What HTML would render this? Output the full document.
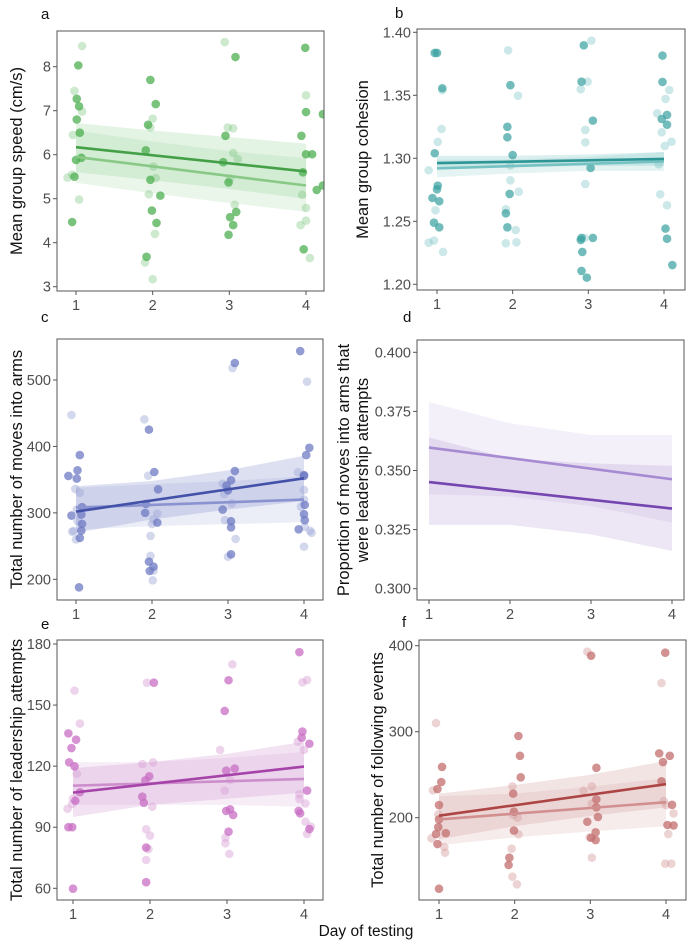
<!DOCTYPE html>
<html><head><meta charset="utf-8">
<style>
html,body{margin:0;padding:0;background:#fff;}
svg{display:block;font-family:"Liberation Sans",sans-serif;}
</style></head>
<body>
<svg id="fig" width="691" height="945" viewBox="0 0 691 945"></svg>
<script>
// ---------- DATA ----------
const days=[1,2,3,4];
// panel a: mean group speed
const aDark=[[1.03,8.03],[1.01,7.27],[1.04,7.1],[1.01,6.8],[1.05,6.5],[1.0,5.88],[1.07,5.93],[0.98,5.5],[0.95,4.47],
 [1.97,7.7],[2.04,7.15],[1.94,6.68],[1.91,6.1],[1.97,5.43],[2.1,5.07],[1.99,4.73],[2.05,4.45],[1.92,3.68],
 [3.08,8.22],[2.95,6.43],[2.92,5.83],[2.99,5.37],[3.09,4.7],[3.01,4.58],[3.05,4.4],[2.99,4.18],
 [3.99,8.43],[4.0,6.97],[4.22,6.92],[3.94,6.43],[4.0,6.01],[4.08,6.01],[3.96,5.6],[4.22,5.3],[4.14,5.2],[3.97,3.85]];
const aLight=[[1.08,8.47],[0.98,7.45],[1.08,6.98],[0.96,6.45],[0.89,5.48],[1.04,4.98],[0.95,5.55],
 [2.0,6.82],[1.97,6.62],[2.01,5.73],[2.04,5.47],[1.95,5.1],[2.03,4.2],[1.9,3.55],[2.0,3.17],
 [2.94,8.56],[2.98,6.62],[3.05,6.6],[3.05,6.04],[3.11,5.9],[3.01,5.46],[3.07,4.86],
 [4.0,7.35],[3.95,5.09],[4.0,4.79],[3.93,4.4],[4.0,4.5],[4.05,3.65]];
const aLineDark=[6.17,5.62], aLineLight=[5.95,5.3];
const aBandDarkLo=[5.6,5.42,5.22,5.0], aBandDarkHi=[6.72,6.55,6.4,6.25];
const aBandLightLo=[5.36,5.12,4.9,4.7], aBandLightHi=[6.55,6.3,6.08,5.92];
// panel b: cohesion
const bDark=[[0.97,1.3836],[1.0,1.3836],[1.07,1.3556],[0.97,1.304],[1.01,1.2783],[1.0,1.2754],[1.03,1.2659],[0.94,1.2685],[0.96,1.2489],[1.03,1.2452],
 [1.97,1.358],[1.93,1.325],[1.93,1.3167],[2.0,1.3026],[1.96,1.2717],[1.91,1.2563],[1.93,1.2452],
 [2.94,1.3897],[2.91,1.3608],[3.06,1.3299],[3.03,1.2923],[2.91,1.2368],[2.9,1.2352],[3.06,1.2368],[2.92,1.2257],[2.91,1.2106],[2.98,1.2053],
 [3.98,1.3815],[3.98,1.3606],[3.97,1.3312],[4.04,1.3344],[4.04,1.3267],[4.02,1.2442],[4.04,1.2362],[4.11,1.2153]];
const bLight=[[1.06,1.3233],[1.01,1.313],[0.89,1.2905],[0.98,1.2587],[0.96,1.2347],[0.89,1.233],[1.08,1.2257],[1.07,1.354],
 [1.94,1.3857],[2.07,1.3497],[1.97,1.2942],[1.97,1.2825],[2.08,1.2735],[1.91,1.2595],[2.04,1.2431],[2.05,1.2333],[1.91,1.2325],
 [3.04,1.3934],[2.99,1.3608],[2.9,1.3548],[2.96,1.3225],[2.96,1.3127],[2.96,1.2796],[2.95,1.2368],
 [4.07,1.3542],[4.02,1.3471],[3.91,1.3357],[3.97,1.3206],[4.01,1.3098],[4.1,1.3132],[3.93,1.2952],[3.95,1.2714],[4.04,1.2627]];
const bLineDark=[1.2962,1.2995], bLineLight=[1.292,1.2975];
const bBandDarkLo=[1.291,1.293,1.294,1.294], bBandDarkHi=[1.302,1.302,1.303,1.305];
const bBandLightLo=[1.285,1.288,1.29,1.29], bBandLightHi=[1.299,1.299,1.301,1.305];
// panel c: moves into arms
const cDark=[[0.9,355.6],[1.02,364],[1.05,387],[1.01,351.6],[1.08,308.5],[1.07,297.4],[0.94,296],[1.08,283.4],[1.07,273.3],[1.05,262.3],[1.04,188],
 [1.96,425.3],[2.03,361.5],[2.08,335.5],[1.92,313.4],[1.91,300],[2.07,285.3],[1.96,226.6],[2.02,219],[1.97,212.5],
 [3.09,525.6],[3.09,363],[3.04,349],[2.98,341],[3.0,334],[2.93,304.9],[3.04,287.4],[3.04,278.3],[3.04,237.6],
 [3.95,543.6],[4.07,398],[4.03,387],[4.0,357],[4.0,355.5],[4.01,312],[4.0,298],[4.01,289],[3.93,275.3]];
const cLight=[[0.94,447.3],[0.99,336],[1.05,330.4],[1.02,287.8],[0.97,272.7],[1.0,260],[0.95,271.7],[1.01,305],
 [1.9,440.8],[1.95,356],[2.07,299],[2.0,283.3],[2.02,290.3],[1.98,265.3],[1.98,235.2],[2.02,213.1],[2.01,198.5],
 [2.93,344],[2.95,328],[3.05,314.4],[2.96,289],[3.1,260.7],[3.0,234],[3.06,518],
 [4.04,497.5],[3.92,361],[4.0,334.5],[3.96,309.4],[4.0,320],[4.01,279],[4.08,273],[4.0,249.2],[4.1,270]];
const cLineDark=[302,352], cLineLight=[308,320];
const cBandDarkLo=[270,290,305,318], cBandDarkHi=[340,348,364,386];
const cBandLightLo=[275,280,283,286], cBandLightHi=[338,343,348,355];
// panel d: proportion leadership attempts
const dLineDark=[0.3451,0.3339], dLineLight=[0.3597,0.3463];
const dBandDarkLo=[0.327,0.327,0.323,0.316], dBandDarkHi=[0.364,0.355,0.353,0.352];
const dBandLightLo=[0.340,0.339,0.335,0.328], dBandLightHi=[0.379,0.370,0.365,0.365];
// panel e: leadership attempts
const eDark=[[0.94,136.1],[1.04,133],[0.98,128.9],[0.95,121.9],[1.02,119.9],[1.03,103],[1.09,107.2],[0.94,90],[0.99,90],[1.0,59.8],
 [2.05,161],[1.99,115],[1.94,113],[1.9,105],[1.92,102],[1.95,80],[1.95,63],
 [3.02,162.2],[2.97,147.1],[2.99,117.8],[3.1,118.8],[3.04,98.8],[2.99,98],[3.08,96],[3.02,87.8],
 [3.94,176],[3.98,137],[3.97,134],[4.07,131],[4.04,108],[3.93,98],[3.95,96.8],[4.07,89.1]];
const eLight=[[1.02,157.1],[1.09,140.9],[1.05,116.2],[0.93,99.1],[0.99,101.4],[1.0,104],
 [1.96,161],[2.04,121.9],[1.9,121],[2.03,100.1],[1.95,89],[2.0,85.9],[1.98,79.2],[1.95,73.9],
 [3.07,170],[2.91,128],[2.97,108],[3.04,113.2],[2.98,84.9],[2.98,82.1],[3.03,76.9],
 [4.04,162.3],[3.98,161.2],[3.92,132],[4.0,128],[3.94,106.2],[3.94,103.9],[4.02,101.7],[4.02,92.7],[4.04,86.7],[4.09,90.3]];
const eLineDark=[107,119.8], eLineLight=[110.4,113.7];
const eBandDarkLo=[95,101,104,107], eBandDarkHi=[119,122,126,132];
const eBandLightLo=[101,101,101,100], eBandLightHi=[122,122,124,127];
// panel f: following events
const fDark=[[1.04,259],[1.03,241.5],[1.0,214.7],[0.98,233.3],[1.0,198],[1.09,182],[0.96,181],[0.99,189],[0.98,169.4],[1.0,117.4],
 [2.05,295],[2.07,272],[2.08,247],[1.98,228],[1.99,207],[1.99,185],[1.93,153.5],[1.92,145],
 [3.01,388.4],[3.08,258],[3.08,221.3],[3.08,212],[3.1,200.8],[2.96,195.3],[3.07,183],[3.01,176.7],[3.07,174],
 [3.99,391.9],[3.91,274.8],[3.96,264.7],[4.05,272],[3.94,242.3],[4.08,215],[4.02,191.5],[4.1,191]];
const fLight=[[0.96,310],[0.92,231.8],[0.9,176],[1.07,165.9],[1.08,159.3],[0.99,203.9],
 [1.97,236.4],[2.04,200],[1.98,203],[1.96,164],[1.97,131.4],[2.03,122.5],[2.05,180.6],
 [2.96,393],[3.02,236.4],[2.91,231.4],[3.02,216.3],[2.99,177],[3.02,153.5],
 [3.94,356.6],[3.97,219.4],[4.0,214.7],[4.1,205],[4.03,181],[3.99,146.5],[4.07,146.5]];
const fLineDark=[202.3,239], fLineLight=[198,218];
const fBandDarkLo=[175,190,202,212], fBandDarkHi=[228,238,250,266];
const fBandLightLo=[168,177,184,190], fBandLightHi=[225,228,236,246];

const aTicks=[3,4,5,6,7,8], bTicks=[1.20,1.25,1.30,1.35,1.40], cTicks=[200,300,400,500];
const dTicks=[0.300,0.325,0.350,0.375,0.400], eTicks=[60,90,120,150,180], fTicks=[200,300,400];

// ---------- GEOMETRY / STYLE ----------
const panels=[
 {id:'a',box:[57,31,324,291],xs:[76,306],yv:[3,8],yp:[286.7,66.7],ticks:aTicks,fmt:v=>String(v),
  dark:aDark,light:aLight,ld:aLineDark,ll:aLineLight,bdl:aBandDarkLo,bdh:aBandDarkHi,bll:aBandLightLo,blh:aBandLightHi,
  cd:'rgba(76,175,80,0.75)',cl:'rgba(129,199,132,0.4)',lcd:'#43a047',lcl:'#88c985',bfd:'rgba(129,199,132,0.22)',bfl:'rgba(129,199,132,0.16)',
  title:['Mean group speed (cm/s)'],tx:[17],label:[41,19]},
 {id:'b',box:[417,29,685,290],xs:[437,664],yv:[1.2,1.4],yp:[284.3,32.3],ticks:bTicks,fmt:v=>v.toFixed(2),
  dark:bDark,light:bLight,ld:bLineDark,ll:bLineLight,bdl:bBandDarkLo,bdh:bBandDarkHi,bll:bBandLightLo,blh:bBandLightHi,
  cd:'rgba(56,160,160,0.7)',cl:'rgba(110,190,190,0.35)',lcd:'#2e9595',lcl:'#76c2c2',bfd:'rgba(110,190,190,0.25)',bfl:'rgba(110,190,190,0.18)',
  title:['Mean group cohesion'],tx:[363],label:[395,18]},
 {id:'c',box:[57,339,323,600],xs:[76,304],yv:[200,500],yp:[579.3,380],ticks:cTicks,fmt:v=>String(v),
  dark:cDark,light:cLight,ld:cLineDark,ll:cLineLight,bdl:cBandDarkLo,bdh:cBandDarkHi,bll:cBandLightLo,blh:cBandLightHi,
  cd:'rgba(110,122,195,0.75)',cl:'rgba(160,168,215,0.45)',lcd:'#4352a8',lcl:'#8a93cf',bfd:'rgba(120,132,200,0.25)',bfl:'rgba(120,132,200,0.15)',
  title:['Total number of moves into arms'],tx:[17],label:[41,322]},
 {id:'d',box:[417,340,684,600],xs:[429,672],yv:[0.3,0.4],yp:[588.7,352.3],ticks:dTicks,fmt:v=>v.toFixed(3),
  dark:[],light:[],ld:dLineDark,ll:dLineLight,bdl:dBandDarkLo,bdh:dBandDarkHi,bll:dBandLightLo,blh:dBandLightHi,
  cd:'',cl:'',lcd:'#7446b0',lcl:'#a68bd2',bfd:'rgba(170,140,210,0.22)',bfl:'rgba(170,140,210,0.13)',
  title:['Proportion of moves into arms that','were leadership attempts'],tx:[344,363],label:[403,322]},
 {id:'e',box:[57,640,323,900],xs:[73,304],yv:[60,180],yp:[888.3,644],ticks:eTicks,fmt:v=>String(v),
  dark:eDark,light:eLight,ld:eLineDark,ll:eLineLight,bdl:eBandDarkLo,bdh:eBandDarkHi,bll:eBandLightLo,blh:eBandLightHi,
  cd:'rgba(200,110,195,0.75)',cl:'rgba(215,160,212,0.45)',lcd:'#a543a8',lcl:'#cc8fcc',bfd:'rgba(205,140,205,0.25)',bfl:'rgba(205,140,205,0.16)',
  title:['Total number of leadership attempts'],tx:[17],label:[41,629]},
 {id:'f',box:[419,640,686,900],xs:[439,666],yv:[200,400],yp:[817.7,645.7],ticks:fTicks,fmt:v=>String(v),
  dark:fDark,light:fLight,ld:fLineDark,ll:fLineLight,bdl:fBandDarkLo,bdh:fBandDarkHi,bll:fBandLightLo,blh:fBandLightHi,
  cd:'rgba(195,110,110,0.75)',cl:'rgba(215,160,160,0.45)',lcd:'#ad4545',lcl:'#d18f8f',bfd:'rgba(200,130,130,0.22)',bfl:'rgba(200,130,130,0.15)',
  title:['Total number of following events'],tx:[378],label:[402,627]}
];

const NS='http://www.w3.org/2000/svg';
const svg=document.getElementById('fig');
function mk(tag,attrs,parent){const e=document.createElementNS(NS,tag);for(const k in attrs)e.setAttribute(k,attrs[k]);(parent||svg).appendChild(e);return e;}

panels.forEach(p=>{
  const g=mk('g',{});
  
  
  const X=d=>p.xs[0]+(d-1)*(p.xs[1]-p.xs[0])/3;
  const Y=v=>p.yp[0]+(v-p.yv[0])*(p.yp[1]-p.yp[0])/(p.yv[1]-p.yv[0]);
  const [x0,y0,x1,y1]=p.box;
  const clipId='clip'+p.id;
  const cp=mk('clipPath',{id:clipId},g);mk('rect',{x:x0,y:y0,width:x1-x0,height:y1-y0},cp);
  const inner=mk('g',{'clip-path':'url(#'+clipId+')'},g);
  [[p.bll,p.blh,p.bfl,'band-light'],[p.bdl,p.bdh,p.bfd,'band-dark']].forEach(([lo,hi,fill,nm])=>{
    let pts=days.map((d,i)=>X(d)+','+Y(hi[i]));
    pts=pts.concat(days.slice().reverse().map((d,i)=>X(d)+','+Y(lo[3-i])));
    const b=mk('polygon',{points:pts.join(' '),fill:fill},inner);
    
    
  });
  [[p.light,p.cl,'point-light'],[p.dark,p.cd,'point-dark']].forEach(([arr,col,nm])=>{
    arr.forEach(pt=>{
      const c=mk('circle',{cx:X(pt[0]),cy:Y(pt[1]),r:4.3,fill:col},inner);
      
      
    });
  });
  [[p.ll,p.lcl,'trend-line-light'],[p.ld,p.lcd,'trend-line-dark']].forEach(([ln,col,nm])=>{
    const l=mk('line',{x1:X(1),y1:Y(ln[0]),x2:X(4),y2:Y(ln[1]),stroke:col,'stroke-width':2.6},inner);
    
    
  });
  const fr=mk('rect',{x:x0,y:y0,width:x1-x0,height:y1-y0,fill:'none',stroke:'#555','stroke-width':1},g);
  
  
  p.ticks.forEach(t=>{
    const ty=Y(t);
    mk('line',{x1:x0-4,y1:ty,x2:x0,y2:ty,stroke:'#555'},g);
    const tl=mk('text',{x:x0-6,y:ty+5,'text-anchor':'end','font-size':14.5,fill:'#4d4d4d'},g);
    tl.textContent=p.fmt(t);
    
    
  });
  days.forEach(d=>{
    mk('line',{x1:X(d),y1:y1,x2:X(d),y2:y1+4,stroke:'#555'},g);
    const tl=mk('text',{x:X(d),y:y1+19,'text-anchor':'middle','font-size':14.5,fill:'#4d4d4d'},g);
    tl.textContent=String(d);
    
    
  });
  const cy=(y0+y1)/2;
  p.title.forEach((t,i)=>{
    const tt=mk('text',{x:p.tx[i],y:cy,'text-anchor':'middle','font-size':16.5,fill:'#111',transform:'rotate(-90 '+p.tx[i]+' '+cy+')','dominant-baseline':'central'},g);
    tt.textContent=t;
    
    
  });
  const lb=mk('text',{x:p.label[0],y:p.label[1],'font-size':15,fill:'#111'},g);
  lb.textContent=p.id;
  
  
});
const xt=mk('text',{x:366,y:936,'text-anchor':'middle','font-size':15.5,fill:'#111'});
xt.textContent='Day of testing';


</script>
</body></html>
